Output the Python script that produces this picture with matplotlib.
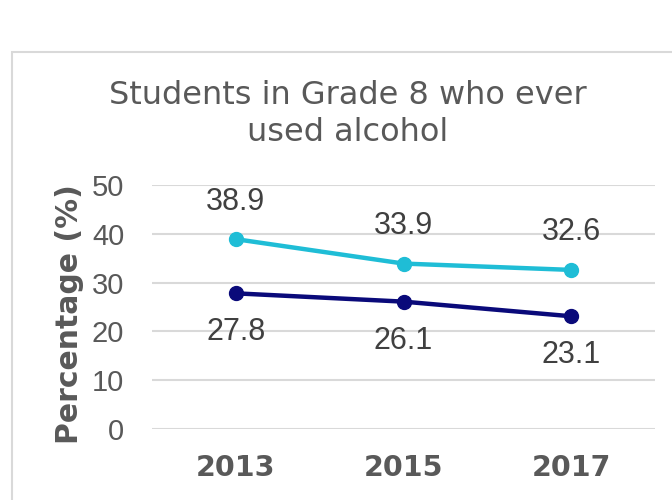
import matplotlib.pyplot as plt
from matplotlib.patches import Rectangle

years = ['2013', '2015', '2017']
series_top = [38.9, 33.9, 32.6]
series_bottom = [27.8, 26.1, 23.1]
yticks = [0, 10, 20, 30, 40, 50]

gray = '#595959'
cyan = '#1FBDD6'
navy = '#0A0A7A'

fig = plt.figure(figsize=(6.72, 5.0), dpi=100)
# chart border
fig.patches.append(Rectangle((12 / 672, -0.1), 1.2, 1.1 - 52 / 500, transform=fig.transFigure,
                             fill=False, edgecolor='#D9D9D9', lw=1.5))

ax = fig.add_axes([152 / 672, 1 - 429 / 500, 503 / 672, 244 / 500])
x = range(len(years))

ax.plot(x, series_top, color=cyan, lw=3.2, marker='o', ms=10, zorder=3)
ax.plot(x, series_bottom, color=navy, lw=3.2, marker='o', ms=10, zorder=3)

for i, v in enumerate(series_top):
    ax.annotate(f'{v}', (i, v), xytext=(0, 27), textcoords='offset points',
                ha='center', va='center', fontsize=22, color='#404040', family='Liberation Sans')
for i, v in enumerate(series_bottom):
    ax.annotate(f'{v}', (i, v), xytext=(0, -28), textcoords='offset points',
                ha='center', va='center', fontsize=22, color='#404040', family='Liberation Sans')

ax.set_xlim(-0.5, 2.5)
ax.set_ylim(0, 50)
ax.set_yticks(yticks)
ax.set_yticklabels([str(t) for t in yticks], fontsize=21, color=gray, family='Liberation Sans')
ax.set_xticks(list(x))
ax.set_xticklabels(years, fontsize=20.5, fontweight='bold', color=gray)
ax.tick_params(length=0)
ax.tick_params(axis='x', pad=18)
ax.tick_params(axis='y', pad=20)
ax.grid(axis='y', color='#D9D9D9', lw=1.5)
ax.set_axisbelow(True)
for s in ax.spines.values():
    s.set_visible(False)

ax.set_ylabel('Percentage (%)', fontsize=21.5, fontweight='bold', color=gray)
ax.yaxis.set_label_coords((84 - 152) / 503, 0.47)

fig.text(0.517, 1 - 114 / 500, 'Students in Grade 8 who ever\nused alcohol', ha='center', va='center',
         fontsize=23, color=gray, linespacing=1.25)

fig.savefig('out.png', dpi=100)
